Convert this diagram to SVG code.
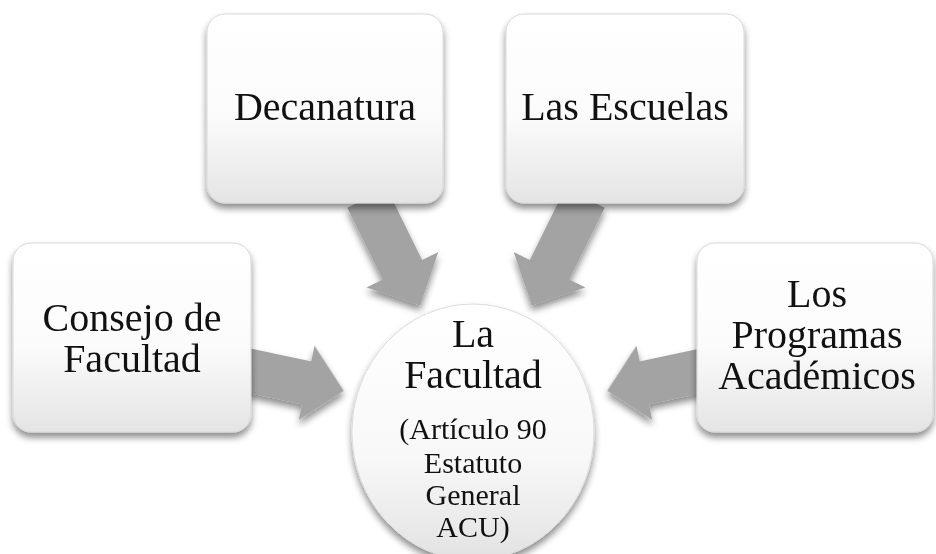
<svg xmlns="http://www.w3.org/2000/svg" width="936" height="554" viewBox="0 0 936 554">
<defs>
  <linearGradient id="boxGrad" x1="0" y1="0" x2="0" y2="1">
    <stop offset="0" stop-color="#ffffff"/>
    <stop offset="0.55" stop-color="#fbfbfb"/>
    <stop offset="1" stop-color="#e4e4e4"/>
  </linearGradient>
  <linearGradient id="circGrad" x1="0" y1="0" x2="0" y2="1">
    <stop offset="0" stop-color="#ffffff"/>
    <stop offset="0.6" stop-color="#f8f8f8"/>
    <stop offset="1" stop-color="#e2e2e2"/>
  </linearGradient>
  <filter id="shadow" x="-20%" y="-20%" width="140%" height="150%">
    <feGaussianBlur in="SourceAlpha" stdDeviation="3.5"/>
    <feOffset dx="0" dy="5" result="b"/>
    <feComponentTransfer><feFuncA type="linear" slope="0.45"/></feComponentTransfer>
    <feMerge><feMergeNode/><feMergeNode in="SourceGraphic"/></feMerge>
  </filter>
  <polygon id="arrowLong" points="0,-22 80,-22 80,-40 120,0 80,40 80,22 0,22"/>
  <polygon id="arrowShort" points="0,-22 62,-22 62,-38 100,0 62,38 62,22 0,22"/>
</defs>
<style>
  .box { fill: url(#boxGrad); stroke: #d8d8d8; stroke-width: 1; }
  .circ { fill: url(#circGrad); stroke: #dcdcdc; stroke-width: 1; }
  .arrow { fill: #a3a3a3; }
  .lbl { font-family: "Liberation Serif", "Times New Roman", serif; font-size: 40px; fill: #111; text-anchor: middle; }
  .sub { font-family: "Liberation Serif", "Times New Roman", serif; font-size: 30px; fill: #111; text-anchor: middle; }
</style>
<rect width="936" height="554" fill="#ffffff"/>
<g id="connectors" filter="url(#shadow)">
  <use href="#arrowLong" class="arrow" transform="translate(367,198) rotate(63.7)"/>
  <use href="#arrowLong" class="arrow" transform="translate(585,198) rotate(116.3)"/>
  <use href="#arrowShort" class="arrow" transform="translate(246,370) rotate(12)"/>
  <use href="#arrowShort" class="arrow" transform="translate(705,370) rotate(168)"/>
</g>
<g id="facultad">
  <ellipse class="circ" cx="473" cy="432" rx="121" ry="128" filter="url(#shadow)"/>
  <text class="lbl" x="473" y="347">La</text>
  <text class="lbl" x="473" y="388">Facultad</text>
  <text class="sub" x="473" y="439">(Artículo 90</text>
  <text class="sub" x="473" y="473">Estatuto</text>
  <text class="sub" x="473" y="505">General</text>
  <text class="sub" x="473" y="537">ACU)</text>
</g>
<g id="decanatura">
  <rect class="box" x="207" y="14" width="236" height="189" rx="18" filter="url(#shadow)"/>
  <text class="lbl" x="325" y="120">Decanatura</text>
</g>
<g id="escuelas">
  <rect class="box" x="506" y="14" width="238" height="189" rx="18" filter="url(#shadow)"/>
  <text class="lbl" x="625" y="120">Las Escuelas</text>
</g>
<g id="consejo">
  <rect class="box" x="13" y="243" width="238" height="189" rx="18" filter="url(#shadow)"/>
  <text class="lbl" x="132" y="331">Consejo de</text>
  <text class="lbl" x="132" y="372">Facultad</text>
</g>
<g id="programas">
  <rect class="box" x="697" y="243" width="236" height="189" rx="18" filter="url(#shadow)"/>
  <text class="lbl" x="817" y="307">Los</text>
  <text class="lbl" x="817" y="348">Programas</text>
  <text class="lbl" x="817" y="389">Académicos</text>
</g>
</svg>
